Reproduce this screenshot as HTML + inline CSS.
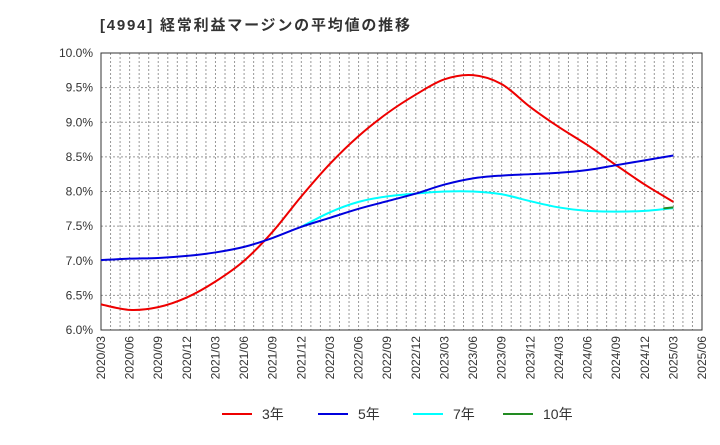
<!DOCTYPE html>
<html><head><meta charset="utf-8"><style>
body{margin:0;background:#fff;font-family:"Liberation Sans","Noto Sans CJK JP",sans-serif}
svg text{font-family:"Liberation Sans","Noto Sans CJK JP",sans-serif}
</style></head><body>
<svg id="c" width="720" height="440" xmlns="http://www.w3.org/2000/svg">
<text x="100" y="30" font-size="15" font-weight="bold" fill="#333" textLength="310" lengthAdjust="spacing">[4994]  経常利益マージンの平均値の推移</text>
<g id="grid"></g><g id="axes"></g><g id="series"></g><g id="legend"></g>
</svg>
<script>
const dates=["2020/03","2020/06","2020/09","2020/12","2021/03","2021/06","2021/09","2021/12","2022/03","2022/06","2022/09","2022/12","2023/03","2023/06","2023/09","2023/12","2024/03","2024/06","2024/09","2024/12","2025/03","2025/06"];
const yTicks=[6.0,6.5,7.0,7.5,8.0,8.5,9.0,9.5,10.0];
const s3=[6.37,6.29,6.33,6.47,6.70,7.00,7.42,7.93,8.40,8.80,9.13,9.40,9.62,9.68,9.55,9.22,8.93,8.67,8.38,8.10,7.85];
const s5=[7.01,7.03,7.04,7.07,7.12,7.20,7.33,7.49,7.62,7.75,7.86,7.97,8.10,8.19,8.23,8.25,8.27,8.31,8.38,8.45,8.52];
const s7start=7;
const s7=[7.49,7.70,7.85,7.93,7.97,8.00,8.00,7.96,7.86,7.77,7.72,7.71,7.72,7.76];
const s10start=20;
const s10=[7.77];
const L=101,R=702,T=53,B=330,NS="http://www.w3.org/2000/svg";
const X=i=>L+(R-L)*i/(dates.length-1);
const Y=v=>B-(B-T)*(v-6)/4;
function mk(p,t,a){const e=document.createElementNS(NS,t);for(const k in a)e.setAttribute(k,a[k]);p.appendChild(e);return e;}
const g=document.getElementById('grid'),ax=document.getElementById('axes'),se=document.getElementById('series'),lg=document.getElementById('legend');
for(let m=1;m<63;m++){const x=L+(R-L)*m/63;const l=mk(g,'line',{x1:x,x2:x,y1:T,y2:B,stroke:'#999','stroke-dasharray':'2,2','stroke-width':1});

}
yTicks.forEach(v=>{const l=mk(g,'line',{x1:L,x2:R,y1:Y(v),y2:Y(v),stroke:'#999','stroke-dasharray':'2,2'});


const t=mk(ax,'text',{x:L-8,y:Y(v)+4,'text-anchor':'end','font-size':12,fill:'#333'});t.textContent=v.toFixed(1)+'%';

});
dates.forEach((d,i)=>{const t=mk(ax,'text',{transform:`translate(${X(i)+4},${B+6}) rotate(-90)`,'text-anchor':'end','font-size':12,fill:'#333'});t.textContent=d;

});
const fr=mk(ax,'rect',{x:L,y:T,width:R-L,height:B-T,fill:'none',stroke:'#333'});


function path(pts){let d=`M${pts[0][0]},${pts[0][1]}`;for(let i=0;i<pts.length-1;i++){const p0=pts[i-1]||pts[i],p1=pts[i],p2=pts[i+1],p3=pts[i+2]||p2;
d+=` C${p1[0]+(p2[0]-p0[0])/6},${p1[1]+(p2[1]-p0[1])/6} ${p2[0]-(p3[0]-p1[0])/6},${p2[1]-(p3[1]-p1[1])/6} ${p2[0]},${p2[1]}`;}return d;}
function draw(arr,start,col,name){let pts=arr.map((v,i)=>[X(start+i),Y(v)]);if(pts.length===1)pts=[[pts[0][0]-10,pts[0][1]+1],pts[0]];
const p=mk(se,'path',{d:path(pts),fill:'none',stroke:col,'stroke-width':2});

}
draw(s7,s7start,'#00ffff','series-7yr');
draw(s3,0,'#ee0000','series-3yr');
draw(s5,0,'#0000dd','series-5yr');
draw(s10,s10start,'#228b22','series-10yr');
[['3年','#ee0000',222],['5年','#0000dd',318],['7年','#00ffff',413],['10年','#228b22',503]].forEach(([n,c,x])=>{
const gg=mk(lg,'g',{});


mk(gg,'line',{x1:x,x2:x+30,y1:414,y2:414,stroke:c,'stroke-width':2});
const t=mk(gg,'text',{x:x+40,y:419,'font-size':14,fill:'#333'});t.textContent=n;});
</script>
</body></html>
